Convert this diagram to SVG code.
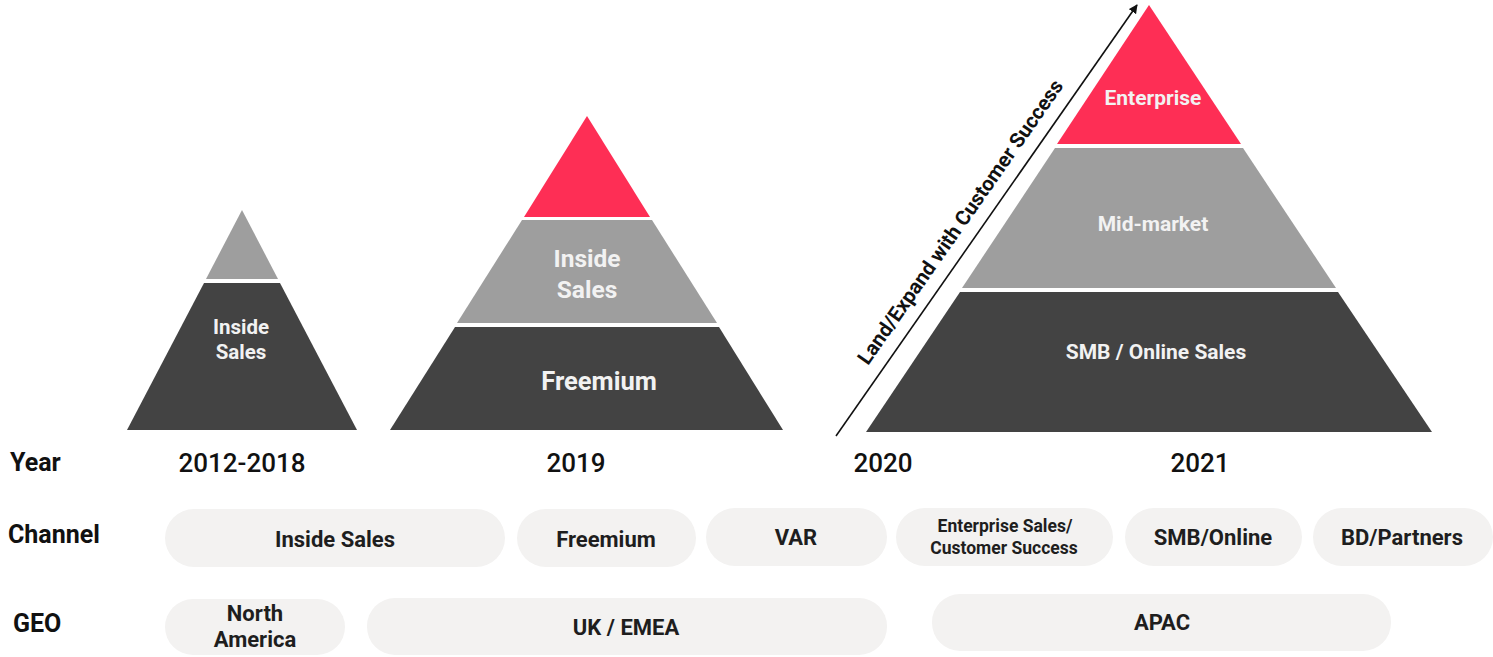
<svg xmlns="http://www.w3.org/2000/svg" width="1493" height="657" viewBox="0 0 1493 657">
  <defs>
    <marker id="arrowhead" viewBox="0 0 10 10" refX="9" refY="5" markerWidth="9" markerHeight="9" markerUnits="userSpaceOnUse" orient="auto">
      <path d="M0,0 L10,5 L0,10 z" fill="#111"/>
    </marker>
    <style>
      .red { fill: #FE2E55; }
      .mid { fill: #9E9E9E; }
      .dark { fill: #434343; }
      .pill { fill: #F3F2F1; }
      .in { font-family: Roboto, "Liberation Sans", sans-serif; font-weight: 700; fill: #F2F2F2; text-anchor: middle; }
      .lbl { font-family: Roboto, "Liberation Sans", sans-serif; font-weight: 700; fill: #1E1E1E; text-anchor: middle; }
      .row { font-family: Roboto, "Liberation Sans", sans-serif; font-weight: 700; fill: #111; font-size: 25px; }
      .yr { font-family: Roboto, "Liberation Sans", sans-serif; font-weight: 500; fill: #111; font-size: 26px; text-anchor: middle; }
    </style>
  </defs>
  <rect width="1493" height="657" fill="#FFFFFF"/>

  <!-- 2012-2018 pyramid -->
  <g id="pyramid-2012">
    <polygon class="mid" points="242,210 278,279 206,279"/>
    <polygon class="dark" points="204,283 280,283 357,430 127,430"/>
    <text class="in" x="241" y="334" font-size="20.5">Inside</text>
    <text class="in" x="241" y="359" font-size="20.5">Sales</text>
  </g>

  <!-- 2019 pyramid -->
  <g id="pyramid-2019">
    <polygon class="red" points="587,116 650,217 524,217"/>
    <polygon class="mid" points="522,220 652,220 717,323 457,323"/>
    <polygon class="dark" points="455,327 719,327 783,430 390,430"/>
    <text class="in" x="587" y="267" font-size="24.5">Inside</text>
    <text class="in" x="587" y="298" font-size="24.5">Sales</text>
    <text class="in" x="599" y="390" font-size="25.5">Freemium</text>
  </g>

  <!-- 2021 pyramid -->
  <g id="pyramid-2021">
    <polygon class="red" points="1149,5 1241,144 1057,144"/>
    <polygon class="mid" points="1055,148 1243,148 1336,288 962,288"/>
    <polygon class="dark" points="960,292 1338,292 1432,432 866,432"/>
    <text class="in" x="1153" y="105" font-size="21">Enterprise</text>
    <text class="in" x="1153" y="231" font-size="21">Mid-market</text>
    <text class="in" x="1156" y="359" font-size="21">SMB / Online Sales</text>
  </g>

  <!-- growth arrow -->
  <g id="connectors">
    <line x1="836" y1="436" x2="1137" y2="5" stroke="#111" stroke-width="1.6" marker-end="url(#arrowhead)"/>
  </g>
  <g id="arrow-label">
    <text class="lbl" transform="translate(966,226) rotate(-55)" font-size="20.5" style="fill:#111">Land/Expand with Customer Success</text>
  </g>

  <!-- row headers -->
  <g id="row-headers">
    <text class="row" x="10" y="471">Year</text>
    <text class="row" x="8" y="543">Channel</text>
    <text class="row" x="13" y="632">GEO</text>
  </g>

  <!-- years -->
  <g id="years">
    <text class="yr" x="242" y="472">2012-2018</text>
    <text class="yr" x="576" y="472">2019</text>
    <text class="yr" x="883" y="472">2020</text>
    <text class="yr" x="1200" y="472">2021</text>
  </g>

  <!-- channel row -->
  <g id="ch-inside-sales">
    <rect class="pill" x="165" y="509" width="340" height="58" rx="29"/>
    <text class="lbl" x="335" y="547" font-size="22">Inside Sales</text>
  </g>
  <g id="ch-freemium">
    <rect class="pill" x="517" y="509" width="179" height="58" rx="29"/>
    <text class="lbl" x="606" y="547" font-size="22">Freemium</text>
  </g>
  <g id="ch-var">
    <rect class="pill" x="706" y="508" width="181" height="58" rx="29"/>
    <text class="lbl" x="796" y="545" font-size="22">VAR</text>
  </g>
  <g id="ch-enterprise">
    <rect class="pill" x="896" y="508" width="217" height="58" rx="29"/>
    <text class="lbl" x="1005" y="532" font-size="17.5">Enterprise Sales/</text>
    <text class="lbl" x="1004" y="554" font-size="17.5">Customer Success</text>
  </g>
  <g id="ch-smb">
    <rect class="pill" x="1125" y="508" width="177" height="58" rx="29"/>
    <text class="lbl" x="1213" y="545" font-size="22">SMB/Online</text>
  </g>
  <g id="ch-bd">
    <rect class="pill" x="1313" y="508" width="180" height="58" rx="29"/>
    <text class="lbl" x="1402" y="545" font-size="22">BD/Partners</text>
  </g>

  <!-- geo row -->
  <g id="geo-na">
    <rect class="pill" x="165" y="599" width="180" height="56" rx="28"/>
    <text class="lbl" x="255" y="621" font-size="22">North</text>
    <text class="lbl" x="255" y="647" font-size="22">America</text>
  </g>
  <g id="geo-emea">
    <rect class="pill" x="367" y="598" width="520" height="57" rx="28"/>
    <text class="lbl" x="626" y="635" font-size="22">UK / EMEA</text>
  </g>
  <g id="geo-apac">
    <rect class="pill" x="932" y="594" width="459" height="57" rx="28"/>
    <text class="lbl" x="1162" y="630" font-size="22">APAC</text>
  </g>
</svg>
